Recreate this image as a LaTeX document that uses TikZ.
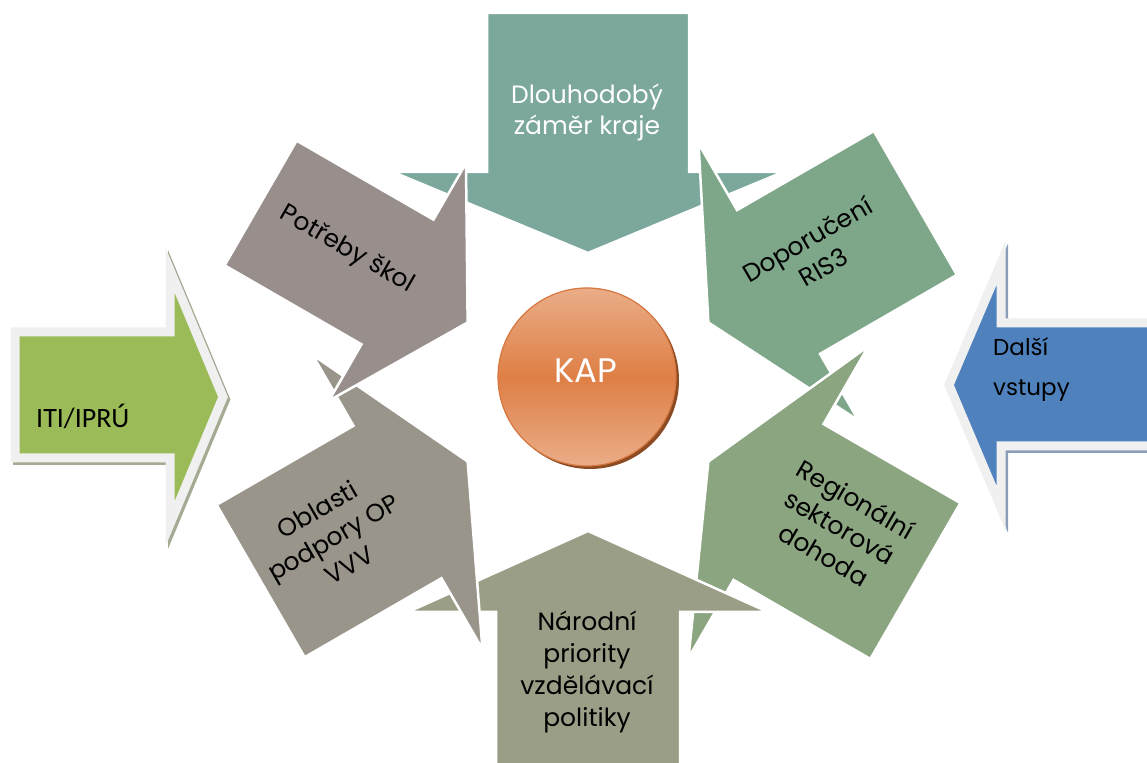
\documentclass[tikz,border=0pt]{standalone}
\usepackage{fontspec}
\setmainfont{Poppins}
\newfontfamily\carl{Carlito}
\definecolor{cTop}{HTML}{7BA79D}
\definecolor{cUL}{HTML}{988E8C}
\definecolor{cUR}{HTML}{7EA689}
\definecolor{cLR}{HTML}{8CA581}
\definecolor{cBot}{HTML}{9B9E86}
\definecolor{cLL}{HTML}{9A958A}
\definecolor{cGreen}{HTML}{9BBB59}
\definecolor{cBlue}{HTML}{4F81BD}
\definecolor{cEdge}{HTML}{F0F0F0}
\definecolor{gShadow}{HTML}{A3AB92}
\definecolor{bShadow}{HTML}{8C9DB8}
\definecolor{kapLight}{HTML}{EAAD88}
\definecolor{kapDark}{HTML}{DE7F45}
\definecolor{kapBorder}{HTML}{D5773F}
\definecolor{kapShadow}{HTML}{8C4B23}
\newcommand\calloutshape[5]{%
  \begin{scope}[shift={(C)},rotate=#1]
    \path[fill=#5, draw=white, line width=2.5pt, line join=miter]
      (-#2,#4) -- (#2,#4) -- (#2,220) -- (#3,220) -- (0,139) -- (-#3,220) -- (-#2,220) -- cycle;
  \end{scope}}
\begin{document}
\begin{tikzpicture}[x=1pt,y=1pt,
  lbl/.style={align=center, font=\fontsize{25}{32}\selectfont, text=black, inner sep=0pt},
  sidearrow/.style={line width=9pt, line join=miter, miter limit=10}]
\useasboundingbox (0,0) rectangle (1147,762);
\clip (0,0) rectangle (1147,762);
\coordinate (C) at (588,370);
\coordinate (K) at (587,385);
% left green arrow
\path[sidearrow, fill=gShadow, draw=gShadow, shift={(2.5,-2.5)}]
  (15,430) -- (170,430) -- (170,492) -- (223,365) -- (170,238) -- (170,304) -- (15,304) -- cycle;
\path[sidearrow, fill=cGreen, draw=cEdge]
  (15,430) -- (170,430) -- (170,492) -- (223,365) -- (170,238) -- (170,304) -- (15,304) -- cycle;
% right blue arrow
\path[sidearrow, fill=bShadow, draw=bShadow, shift={(2.5,-2.5)}]
  (1170,439) -- (1001,439) -- (1001,499) -- (949,377) -- (1001,254) -- (1001,316) -- (1170,316) -- cycle;
\path[sidearrow, fill=cBlue, draw=cEdge]
  (1170,439) -- (1001,439) -- (1001,499) -- (949,377) -- (1001,254) -- (1001,316) -- (1170,316) -- cycle;
% six callouts
\calloutshape{0}{101}{195}{379}{cTop}
\calloutshape{300}{83}{160}{378}{cUR}
\calloutshape{240}{90}{180}{378}{cLR}
\calloutshape{180}{92}{180}{378}{cBot}
\calloutshape{120}{88}{170}{378}{cLL}
\calloutshape{60}{72}{137}{378}{cUL}
% labels
\node[lbl, text=white, font=\fontsize{25}{31}\selectfont] (tTop) at (587,650) {Dlouhodobý\\záměr kraje};
\node[lbl, rotate=-30] (tUL) at (347,512) {Potřeby škol};
\node[lbl, rotate=30] (tUR) at (815,509) {Doporučení\\RIS3};
\node[lbl, rotate=-30] (tLR) at (840,235) {Regionální\\sektorová\\dohoda};
\node[lbl] (tBot) at (587,90) {Národní\\priority\\vzdělávací\\politiky};
\node[lbl, rotate=30] (tLL) at (333,225) {Oblasti\\podpory OP\\VVV};
\node[font=\carl\fontsize{28}{34}\selectfont, anchor=base west, inner sep=0pt] (tITI) at (36,334) {ITI/IPRÚ};
\node[font=\fontsize{23}{40}\selectfont, align=left, anchor=west, inner sep=0pt] (tDalsi) at (993,392) {Další\\vstupy};
% central circle
\fill[kapShadow] ([shift={(3,-3)}]K) circle (89);
\shade[top color=kapLight, bottom color=kapLight, middle color=kapDark] (K) circle (89);
\draw[kapBorder, line width=1.2pt] (K) circle (89);
\node[font=\fontsize{34}{40}\selectfont, text=white, inner sep=0pt] (tKAP) at (586,391) {KAP};
\end{tikzpicture}
\end{document}
